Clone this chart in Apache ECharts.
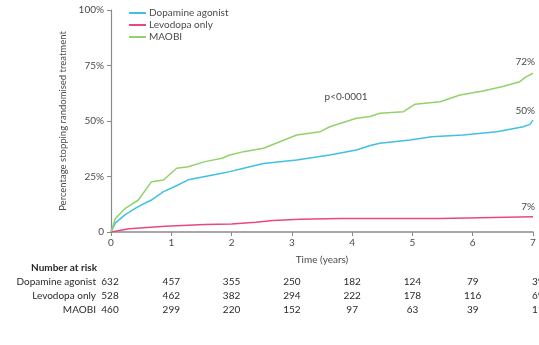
<!DOCTYPE html>
<html>
<head>
<meta charset="utf-8">
<script src="https://cdn.jsdelivr.net/npm/echarts@6/dist/echarts.min.js"></script>
<style>
  html, body { margin: 0; padding: 0; background: #fff; }
  #chart { width: 539px; height: 345px; }
</style>
</head>
<body>
<div id="chart"></div>
<script>
const seriesNames = ['Dopamine agonist', 'Levodopa only', 'MAOBI'];

// [years, % stopping]
const dopamineAgonist = [
  [0, 0], [0.07, 4], [0.23, 7.7], [0.45, 11.4], [0.67, 14.4], [0.87, 18.2], [1.06, 20.5],
  [1.28, 23.5], [1.56, 25], [1.84, 26.5], [1.97, 27.2], [2.2, 28.7], [2.53, 30.9],
  [3.08, 32.4], [3.63, 34.7], [4.07, 36.9], [4.3, 39], [4.46, 40], [4.96, 41.4],
  [5.32, 42.9], [5.84, 43.7], [6.4, 45.2], [6.84, 47.4], [6.95, 48.5], [7.0, 50.4]
];
const levodopaOnly = [
  [0, 0], [0.3, 1.5], [0.9, 2.6], [1.56, 3.4], [2.0, 3.6], [2.4, 4.4], [2.69, 5.2],
  [3.14, 5.7], [3.8, 6.1], [5.45, 6.1], [5.48, 6.8], [7.0, 6.9]
];
const maobi = [
  [0, 0], [0.07, 6], [0.23, 10.5], [0.45, 14.3], [0.67, 22.6], [0.87, 23.4], [1.09, 28.7],
  [1.28, 29.4], [1.56, 31.7], [1.84, 33.2], [1.97, 34.7], [2.2, 36.2], [2.53, 37.7],
  [3.08, 43.7], [3.47, 45.2], [3.63, 47.4], [4.07, 51.2], [4.3, 52], [4.46, 53.5],
  [4.85, 54.2], [5.04, 57.5], [5.46, 58.7], [5.79, 61.7], [6.17, 63.5], [6.5, 65.5],
  [6.78, 67.7], [6.89, 70], [7.0, 71.5]
];

const endLabels = ['50%', '7%', '72%'];
const riskTimes = [0, 1, 2, 3, 4, 5, 6, 7];
const riskDopamine = [632, 457, 355, 250, 182, 124, 79, 39];
const riskLevodopa = [528, 462, 382, 294, 222, 178, 116, 69];
const riskMaobi = [460, 299, 220, 152, 97, 63, 39, 11];

const colors = ['#40c0e2', '#e9497a', '#92d26a'];
const font = 'Lato, "Liberation Sans", sans-serif';
const textGray = '#4a4a4a';
const fs = 10;

const chart = echarts.init(document.getElementById('chart'));

const option = {
  animation: false,
  grid: { left: 111, right: 6, top: 10, bottom: 113 },
  legend: {
    orient: 'vertical',
    left: 124,
    top: 3,
    itemWidth: 17,
    itemHeight: 2,
    itemGap: 2,
    icon: 'rect',
    data: seriesNames,
    textStyle: { fontFamily: font, fontSize: fs, color: textGray, padding: [0, 0, 0, -2] }
  },
  xAxis: {
    type: 'value',
    min: 0,
    max: 7,
    interval: 1,
    name: 'Time (years)',
    nameLocation: 'middle',
    nameGap: 23,
    nameTextStyle: { fontFamily: font, fontSize: fs, color: textGray },
    axisLine: { lineStyle: { color: '#8a8a8a', width: 1.5 } },
    axisTick: { length: 4, lineStyle: { color: '#8a8a8a' } },
    axisLabel: { fontFamily: font, fontSize: fs, color: textGray, margin: 6 },
    splitLine: { show: false }
  },
  yAxis: {
    type: 'value',
    min: 0,
    max: 100,
    interval: 25,
    name: 'Percentage stopping randomised treatment',
    nameLocation: 'middle',
    nameGap: 40,
    nameTextStyle: { fontFamily: font, fontSize: 9.5, color: textGray },
    axisLine: { show: true, lineStyle: { color: '#8a8a8a', width: 1.2 } },
    axisTick: { show: true, length: 4, lineStyle: { color: '#8a8a8a' } },
    axisLabel: {
      fontFamily: font, fontSize: fs, color: textGray, margin: 7,
      formatter: v => (v === 0 ? '0' : v + '%')
    },
    splitLine: { show: false }
  },
  series: [
    { name: seriesNames[0], type: 'line', data: dopamineAgonist, showSymbol: false,
      lineStyle: { color: colors[0], width: 1.5 }, itemStyle: { color: colors[0] } },
    { name: seriesNames[1], type: 'line', data: levodopaOnly, showSymbol: false,
      lineStyle: { color: colors[1], width: 1.5 }, itemStyle: { color: colors[1] } },
    { name: seriesNames[2], type: 'line', data: maobi, showSymbol: false,
      lineStyle: { color: colors[2], width: 1.5 }, itemStyle: { color: colors[2] } }
  ]
};

chart.setOption(option);

// end labels, p value and number-at-risk table
const txt = (x, y, text, extra) => ({
  type: 'text', x, y,
  style: Object.assign({ text, fontFamily: font, fontSize: fs, fill: textGray,
    align: 'center', verticalAlign: 'middle' }, extra || {})
});

const graphics = [];
const lastPts = [dopamineAgonist, levodopaOnly, maobi].map(d => d[d.length - 1]);
const labelLift = [9, 10, 11];
lastPts.forEach((p, i) => {
  const [px, py] = chart.convertToPixel({ gridIndex: 0 }, p);
  graphics.push(txt(px + 2, py - labelLift[i], endLabels[i], { align: 'right' }));
});
const [pvx, pvy] = chart.convertToPixel({ gridIndex: 0 }, [3.9, 61]);
graphics.push(txt(pvx, pvy, 'p<0·0001'));

const rowY = [282, 296, 310];
const tableText = '#2a2a2a';
graphics.push(txt(97, 268, 'Number at risk', { align: 'right', fontWeight: 'bold', fill: tableText }));
seriesNames.forEach((n, i) => graphics.push(txt(96, rowY[i], n, { align: 'right', fill: tableText })));
[riskDopamine, riskLevodopa, riskMaobi].forEach((row, r) => {
  row.forEach((v, i) => {
    const tx = chart.convertToPixel({ xAxisIndex: 0 }, riskTimes[i]);
    const last = i === riskTimes.length - 1;
    const x = i === 0 ? tx - 1 : (last ? tx - 1 : tx);
    graphics.push(txt(x, rowY[r], String(v), { fill: tableText, align: last ? 'left' : 'center' }));
  });
});

chart.setOption({ graphic: graphics });
</script>
</body>
</html>
